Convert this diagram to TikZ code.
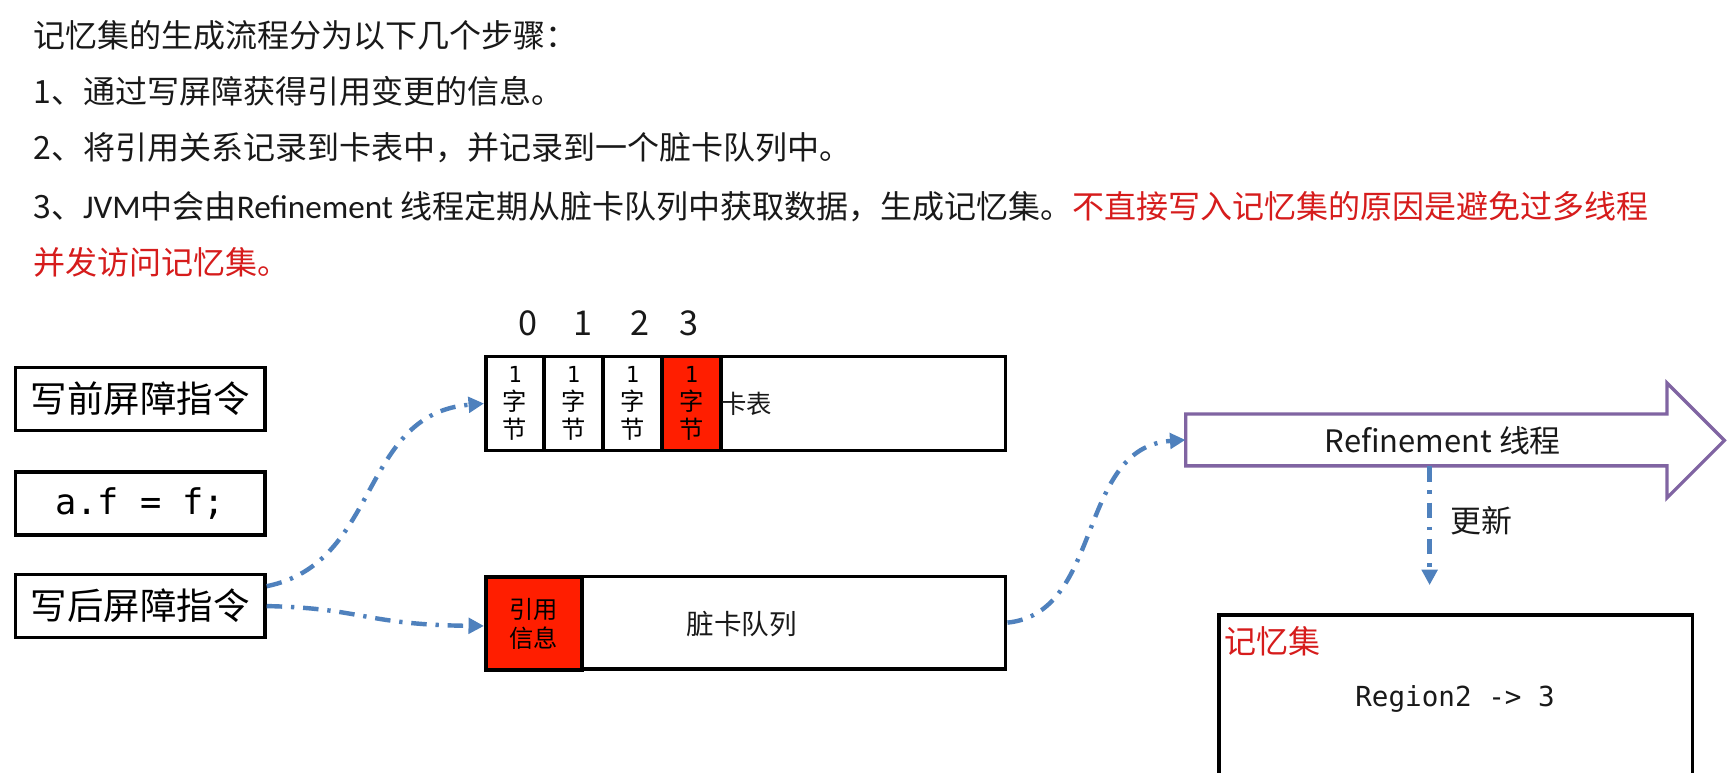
\documentclass[tikz,border=0pt]{standalone}
\usepackage{fontspec}
\setmainfont{Noto Sans CJK SC}
\newfontfamily\codefont{DejaVu Sans Mono}
\newfontfamily\narrowfont{Carlito}
\usetikzlibrary{arrows.meta}
\definecolor{linkblue}{RGB}{79,129,189}
\definecolor{cellred}{RGB}{255,30,0}
\definecolor{textred}{RGB}{214,28,28}
\definecolor{arrowpurple}{RGB}{128,100,162}
\definecolor{ink}{RGB}{25,25,25}
\begin{document}
\begin{tikzpicture}[x=1pt,y=-1pt,
  title/.style={anchor=west,inner sep=0pt,font=\fontsize{29}{34}\selectfont,text=ink},
  instbox/.style={draw=black,line width=3.2pt,minimum width=226pt,minimum height=57pt,inner sep=0pt,font=\fontsize{33}{38}\selectfont},
  cell/.style={draw=black,line width=3.2pt,minimum width=53pt,minimum height=85pt,inner sep=0pt,align=center,font=\fontsize{22}{25}\selectfont},
  bigbox/.style={draw=black,line width=3.2pt,minimum width=471pt,minimum height=85pt,inner sep=0pt},
  lbl/.style={inner sep=0pt,text=ink},
  idx/.style={inner sep=0pt,text=ink,font=\fontsize{31}{34}\selectfont},
  link/.style={linkblue,line width=4pt,dash pattern=on 14pt off 8pt on 3pt off 8pt,-{Triangle[length=14pt,width=14pt]}},
  ]
\useasboundingbox (0,0) rectangle (1568,700);
\fill[white] (0,0) rectangle (1568,700);

% heading text
\node[title] (t1) at (30,32) {记忆集的生成流程分为以下几个步骤：};
\node[title] (t2) at (30,83) {1、通过写屏障获得引用变更的信息。};
\node[title] (t3) at (30,134) {2、将引用关系记录到卡表中，并记录到一个脏卡队列中。};
\node[title] (t4) at (30,187) {3、{\narrowfont\fontsize{30}{34}\selectfont JVM}中会由{\narrowfont\fontsize{30}{34}\selectfont Refinement} 线程定期从脏卡队列中获取数据，生成记忆集。{\color{textred}不直接写入记忆集的原因是避免过多线程}};
\node[title,text=textred] (t5) at (30,238) {并发访问记忆集。};

% instruction boxes
\node[instbox] (w1) at (127,361.5) {写前屏障指令};
\node[instbox] (w0) at (127,456) {\codefont\fontsize{32}{36}\selectfont a.f = f;};
\node[instbox] (w2) at (127,549) {写后屏障指令};

% card table
\node[idx] (n0) at (478,293) {0};
\node[idx] (n1) at (528,293) {1};
\node[idx] (n2) at (580,293) {2};
\node[idx] (n3) at (624,293) {3};
\node[bigbox] (card) at (675.5,365.5) {};
\node[cell] (c0) at (466.5,365.5) {{\codefont\fontsize{20}{25}\selectfont 1}\\字\\节};
\node[cell] (c1) at (519.5,365.5) {{\codefont\fontsize{20}{25}\selectfont 1}\\字\\节};
\node[cell] (c2) at (573,365.5) {{\codefont\fontsize{20}{25}\selectfont 1}\\字\\节};
\node[cell,fill=cellred] (c3) at (626.5,365.5) {{\codefont\fontsize{20}{25}\selectfont 1}\\字\\节};
\node[lbl,anchor=west,font=\fontsize{23}{26}\selectfont] (cardlbl) at (653,366) {卡表};

% dirty card queue
\node[bigbox,minimum height=84pt] (queue) at (675.5,564) {};
\node[draw=black,line width=3.2pt,fill=cellred,minimum width=87pt,minimum height=84pt,inner sep=0pt,align=center,font=\fontsize{22}{26}\selectfont] (refinfo) at (483.5,565) {引用\\信息};
\node[lbl,font=\fontsize{25}{28}\selectfont] (queuelbl) at (672,565) {脏卡队列};

% Refinement thread arrow
\draw[arrowpurple,line width=3pt,line join=miter] (1074,375) -- (1510,375) -- (1510,347) -- (1562,399) -- (1510,451) -- (1510,422) -- (1074,422) -- cycle;
\node[minimum width=436pt,minimum height=47pt,inner sep=0pt] (refine) at (1292,398.5) {};
\node[lbl,font=\fontsize{28}{32}\selectfont] (refinelbl) at (1307,399) {Refinement 线程};

% remembered set box
\draw[black,line width=3.2pt] (1104,703) -- (1104,557) -- (1533,557) -- (1533,703);
\node[lbl,anchor=west,text=textred,font=\fontsize{29}{32}\selectfont] (rsetlbl) at (1109,581) {记忆集};
\node[lbl,font=\codefont\fontsize{25}{30}\selectfont] (region) at (1318,633) {Region2 -> 3};

% update arrow
\coordinate (updend) at (1295,530);
\draw[link] (refine.south -| updend) -- (updend);
\node[lbl,font=\fontsize{28}{31}\selectfont] (updlbl) at (1342,472) {更新};

% connectors
\draw[link] ([yshift=18pt]w2.east) .. controls (345,510) and (325,375) .. (card.west);
\draw[link] (w2.east) .. controls (330,551) and (330,566) .. ([yshift=-3pt]queue.west);
\draw[link] (queue.east) .. controls (1000,555) and (975,405) .. (refine.west);
\end{tikzpicture}
\end{document}
